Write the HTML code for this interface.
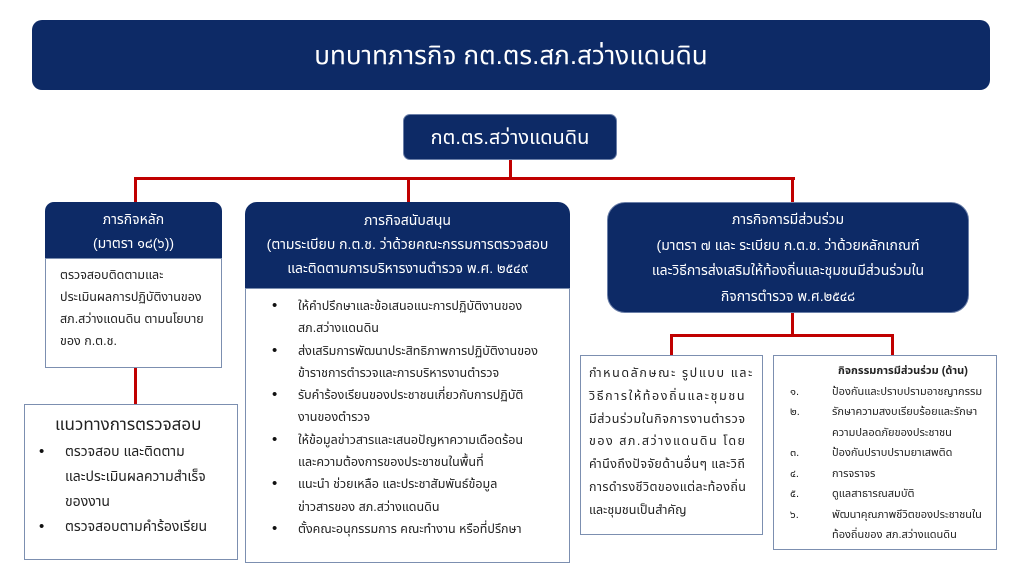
<!DOCTYPE html>
<html><head><meta charset="utf-8"><style>
*{margin:0;padding:0;box-sizing:border-box}
body{width:1024px;height:576px;background:#fff;position:relative;overflow:hidden;font-family:"Liberation Sans","Noto Sans Thai","Noto Sans CJK SC",sans-serif;color:#222}
.a{position:absolute}
.navy{background:#0d2a66;color:#fff;text-align:center}
.bd{border:1.5px solid #7c8fb0;background:#fff}
.r{position:absolute;background:#c00000}
ul{list-style:none}
li{position:relative}
li:before{content:"•";position:absolute;left:-26px;top:0;font-size:15px;color:#111}
</style></head><body>
<div class="a navy" style="left:32px;top:20px;width:958px;height:70px;border-radius:10px;font-size:26px;line-height:70px">บทบาทภารกิจ กต.ตร.สภ.สว่างแดนดิน</div>
<div class="a navy" style="left:403px;top:114px;width:214px;height:46px;border-radius:7px;font-size:20px;line-height:46px;border:1px solid #6b7fa8">กต.ตร.สว่างแดนดิน</div>

<div class="r" style="left:509px;top:160px;width:3px;height:19px"></div>
<div class="r" style="left:134px;top:177px;width:661px;height:3px"></div>
<div class="r" style="left:134px;top:177px;width:3px;height:26px"></div>
<div class="r" style="left:407px;top:177px;width:3px;height:26px"></div>
<div class="r" style="left:791px;top:177px;width:3px;height:26px"></div>
<div class="r" style="left:134px;top:368px;width:3px;height:37px"></div>
<div class="r" style="left:791px;top:313px;width:3px;height:23px"></div>
<div class="r" style="left:670px;top:334px;width:224px;height:3px"></div>
<div class="r" style="left:670px;top:334px;width:3px;height:22px"></div>
<div class="r" style="left:891px;top:334px;width:3px;height:22px"></div>

<div class="a navy" style="left:45px;top:202px;width:177px;height:57px;border-radius:9px 9px 0 0;font-size:14px;line-height:24px;padding-top:5px">ภารกิจหลัก<br>(มาตรา ๑๘(๖))</div>
<div class="a bd" style="left:45px;top:258px;width:177px;height:110px;font-size:12.5px;line-height:22px;padding:5px 0 0 14px">ตรวจสอบติดตามและ<br>ประเมินผลการปฏิบัติงานของ<br>สภ.สว่างแดนดิน ตามนโยบาย<br>ของ ก.ต.ช.</div>

<div class="a bd" style="left:24px;top:404px;width:214px;height:156px;font-size:14px;line-height:25px;padding:7px 0 0 0">
<div style="padding-left:30px;font-size:17px">แนวทางการตรวจสอบ</div>
<ul style="padding-left:40px;margin-top:2px;white-space:nowrap"><li>ตรวจสอบ และติดตาม<br>และประเมินผลความสำเร็จ<br>ของงาน</li><li>ตรวจสอบตามคำร้องเรียน</li></ul></div>

<div class="a navy" style="left:245px;top:202px;width:325px;height:87px;border-radius:12px 12px 0 0;font-size:14px;line-height:24px;padding-top:6px">ภารกิจสนับสนุน<br>(ตามระเบียบ ก.ต.ช. ว่าด้วยคณะกรรมการตรวจสอบ<br>และติดตามการบริหารงานตำรวจ พ.ศ. ๒๕๔๙</div>
<div class="a bd" style="left:245px;top:288px;width:325px;height:275px;font-size:12.5px;line-height:22.3px;padding:6px 0 0 52px">
<ul><li>ให้คำปรึกษาและข้อเสนอแนะการปฏิบัติงานของ<br>สภ.สว่างแดนดิน</li><li>ส่งเสริมการพัฒนาประสิทธิภาพการปฏิบัติงานของ<br>ข้าราชการตำรวจและการบริหารงานตำรวจ</li><li>รับคำร้องเรียนของประชาชนเกี่ยวกับการปฏิบัติ<br>งานของตำรวจ</li><li>ให้ข้อมูลข่าวสารและเสนอปัญหาความเดือดร้อน<br>และความต้องการของประชาชนในพื้นที่</li><li>แนะนำ ช่วยเหลือ และประชาสัมพันธ์ข้อมูล<br>ข่าวสารของ สภ.สว่างแดนดิน</li><li>ตั้งคณะอนุกรรมการ คณะทำงาน หรือที่ปรึกษา</li></ul></div>

<div class="a navy" style="left:607px;top:202px;width:362px;height:111px;border-radius:18px;font-size:14px;line-height:25.5px;padding-top:4px;border:1px solid #6b7fa8">ภารกิจการมีส่วนร่วม<br>(มาตรา ๗ และ ระเบียบ ก.ต.ช. ว่าด้วยหลักเกณฑ์<br>และวิธีการส่งเสริมให้ท้องถิ่นและชุมชนมีส่วนร่วมใน<br>กิจการตำรวจ พ.ศ.๒๕๔๘</div>

<div class="a bd" style="left:580px;top:355px;width:183px;height:180px;font-size:12.5px;line-height:22.8px;padding:6px 8px 0 8px;white-space:nowrap">
<div style="letter-spacing:1.6px">กำหนดลักษณะ รูปแบบ และ</div>
<div style="letter-spacing:1.6px">วิธีการให้ท้องถิ่นและชุมชน</div>
<div style="letter-spacing:0.6px">มีส่วนร่วมในกิจการงานตำรวจ</div>
<div style="letter-spacing:1.5px">ของ สภ.สว่างแดนดิน โดย</div>
<div style="letter-spacing:0.4px">คำนึงถึงปัจจัยด้านอื่นๆ และวิถี</div>
<div style="letter-spacing:0.4px">การดำรงชีวิตของแต่ละท้องถิ่น</div>
<div>และชุมชนเป็นสำคัญ</div></div>

<div class="a bd" style="left:773px;top:355px;width:224px;height:195px;font-size:11px;line-height:20.5px;padding:5px 0 0 16px">
<div style="padding-left:48px;font-weight:bold">กิจกรรมการมีส่วนร่วม (ด้าน)</div>
<div style="display:grid;grid-template-columns:42px 1fr">
<span>๑.</span><span>ป้องกันและปราบปรามอาชญากรรม</span>
<span>๒.</span><span>รักษาความสงบเรียบร้อยและรักษา<br>ความปลอดภัยของประชาชน</span>
<span>๓.</span><span>ป้องกันปราบปรามยาเสพติด</span>
<span>๔.</span><span>การจราจร</span>
<span>๕.</span><span>ดูแลสาธารณสมบัติ</span>
<span>๖.</span><span>พัฒนาคุณภาพชีวิตของประชาชนใน<br>ท้องถิ่นของ สภ.สว่างแดนดิน</span>
</div></div>
</body></html>
